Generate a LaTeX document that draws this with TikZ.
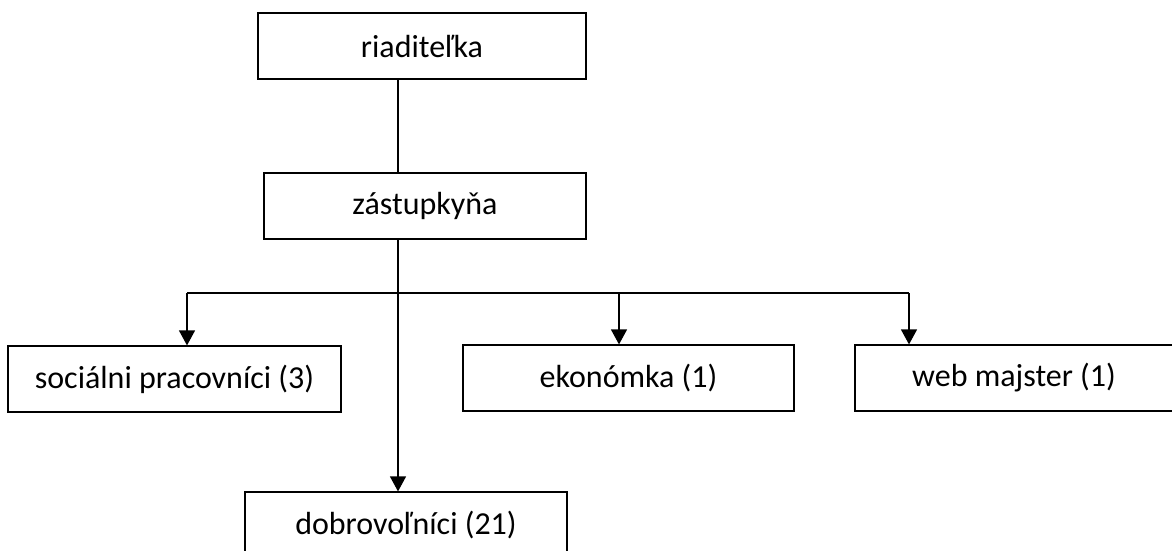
\documentclass[tikz,border=0pt]{standalone}
\usepackage{fontspec}
\setmainfont{Carlito}
\usetikzlibrary{arrows.meta}

\tikzset{
  box/.style = {draw, line width=1.2pt, minimum height=66, inner sep=0pt,
    font=\fontsize{32}{38}\selectfont},
  arr/.style = {-{Triangle[width=16pt,length=15pt]}, line width=1.2pt}
}

\begin{document}
\begin{tikzpicture}[x=1pt, y=-1pt]

  \useasboundingbox (0,0) rectangle (1172,550);

  % draw boxes
  \node [box, minimum width=328] (riad) at (422,46) {riaditeľka};
  \node [box, minimum width=322] (zast) at (425,206) {zástupkyňa};
  \node [box, minimum width=333] (soc) at (174.5,379) {sociálni pracovníci (3)};
  \node [box, minimum width=331] (ekon) at (628.5,378) {ekonómka (1)};
  \node [box, minimum width=318] (web) at (1014,378) {web majster (1)};
  \node [box, minimum width=322] (dobr) at (406,525) {dobrovoľníci (21)};

  % branch points
  \coordinate (spine) at (398,0);
  \coordinate (tsoc) at (187,293);
  \coordinate (tekon) at (619,293);
  \coordinate (tweb) at (909,293);

  % draw connectors
  \draw [line width=1.2pt] (riad.south -| spine) -- (zast.north -| spine);
  \draw [arr] (zast.south -| spine) -- (dobr.north -| spine);
  \draw [line width=1.2pt] (tsoc) -- (tweb);
  \draw [arr] (tsoc) -- (soc.north -| tsoc);
  \draw [arr] (tekon) -- (ekon.north -| tekon);
  \draw [arr] (tweb) -- (web.north -| tweb);
\end{tikzpicture}
\end{document}
